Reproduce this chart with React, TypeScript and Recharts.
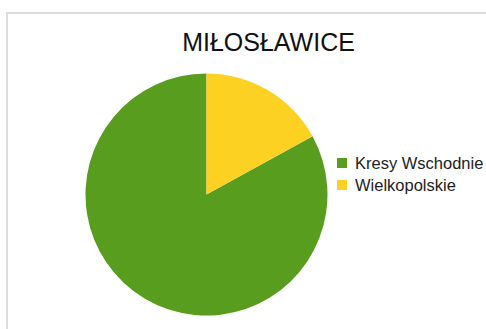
import { PieChart, Pie, Cell, Legend } from "recharts";

const regions = ["Kresy Wschodnie", "Wielkopolskie"];
const shares = [83, 17];
const COLORS = ["#589d1d", "#fdd122"];

const data = regions.map((name, i) => ({ name, value: shares[i] }));

const FONT = '"Liberation Sans", Arial, Helvetica, sans-serif';

function LegendBox() {
  return (
    <div style={{ fontFamily: FONT, fontSize: 16.5, color: "#222" }}>
      {data.map((d, i) => (
        <div key={d.name} style={{ display: "flex", alignItems: "center", height: 22, whiteSpace: "nowrap" }}>
          <span style={{ width: 10, height: 10, background: COLORS[i], display: "inline-block", marginRight: 8 }} />
          <span>{d.name}</span>
        </div>
      ))}
    </div>
  );
}

export default function App() {
  return (
    <div style={{ position: "absolute", left: 0, top: 0, width: 486, height: 329, background: "#fff", overflow: "hidden" }}>
      <div
        style={{
          position: "absolute",
          left: 6,
          top: 12,
          width: 500,
          height: 340,
          border: "2px solid #dcdcdc",
          boxSizing: "border-box",
        }}
      />
      <div
        style={{
          position: "absolute",
          left: 0,
          top: 28,
          width: 537,
          textAlign: "center",
          fontFamily: FONT,
          fontSize: 25,
          color: "#111",
        }}
      >
        MIŁOSŁAWICE
      </div>
      <div style={{ position: "absolute", left: 0, top: 0 }}>
        <PieChart width={486} height={329}>
          <Pie
            data={data}
            dataKey="value"
            nameKey="name"
            cx={201.5}
            cy={189.5}
            outerRadius={121}
            startAngle={90}
            endAngle={450}
            stroke="none"
            isAnimationActive={false}
          >
            {data.map((d, i) => (
              <Cell key={d.name} fill={COLORS[i]} />
            ))}
          </Pie>
          <Legend
            layout="vertical"
            content={() => <LegendBox />}
            wrapperStyle={{ left: 337, top: 152, width: 170 }}
          />
        </PieChart>
      </div>
    </div>
  );
}
